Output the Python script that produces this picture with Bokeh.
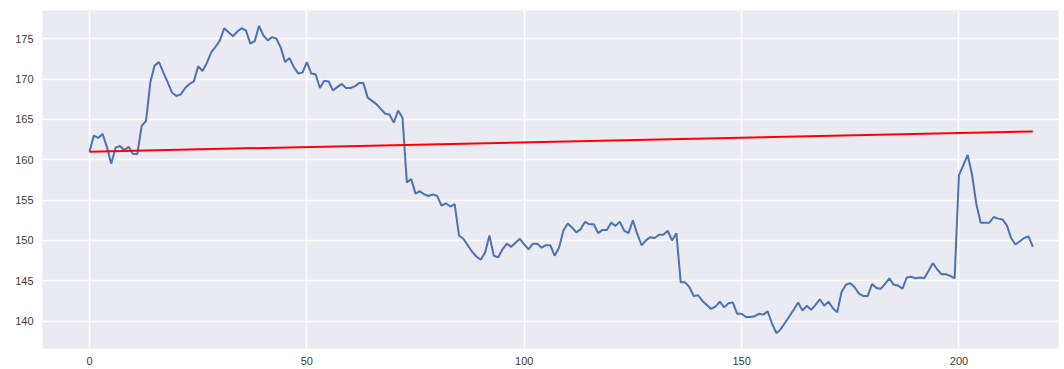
from bokeh.plotting import figure
from bokeh.models import FixedTicker, Range1d
from bokeh.embed import file_html
from bokeh.resources import INLINE

# Daily closing prices, one value per trading day
price = [
    161.0, 163.0, 162.7, 163.2, 161.6, 159.5, 161.5, 161.7, 161.2, 161.6,
    160.7, 160.7, 164.2, 164.8, 169.6, 171.7, 172.1, 170.8, 169.6, 168.3,
    167.9, 168.1, 168.9, 169.4, 169.7, 171.6, 171.0, 172.0, 173.3, 174.0,
    174.8, 176.3, 175.8, 175.3, 175.9, 176.3, 176.0, 174.4, 174.7, 176.6,
    175.4, 174.8, 175.2, 175.0, 173.9, 172.1, 172.6, 171.5, 170.7, 170.8,
    172.1, 170.7, 170.6, 168.9, 169.8, 169.7, 168.6, 169.0, 169.4, 168.9,
    168.9, 169.1, 169.5, 169.5, 167.7, 167.3, 166.9, 166.3, 165.7, 165.6,
    164.6, 166.1, 165.2, 157.2, 157.6, 155.8, 156.1, 155.7, 155.5, 155.7,
    155.5, 154.3, 154.6, 154.2, 154.5, 150.6, 150.2, 149.4, 148.6, 148.0,
    147.6, 148.5, 150.6, 148.1, 147.9, 148.9, 149.6, 149.2, 149.7, 150.2,
    149.5, 148.9, 149.6, 149.6, 149.1, 149.4, 149.4, 148.1, 149.1, 151.2,
    152.1, 151.6, 151.0, 151.4, 152.3, 152.0, 152.0, 150.9, 151.3, 151.3,
    152.2, 151.8, 152.3, 151.2, 150.9, 152.5, 150.8, 149.4, 150.0, 150.4,
    150.3, 150.7, 150.7, 151.2, 150.0, 150.9, 144.8, 144.8, 144.2, 143.1,
    143.2, 142.5, 142.0, 141.5, 141.8, 142.4, 141.7, 142.2, 142.3, 140.9,
    140.9, 140.5, 140.5, 140.6, 140.9, 140.8, 141.2, 139.7, 138.5, 139.0,
    139.8, 140.6, 141.4, 142.3, 141.3, 141.9, 141.4, 142.0, 142.7, 141.9,
    142.4, 141.6, 141.1, 143.6, 144.5, 144.7, 144.2, 143.4, 143.1, 143.1,
    144.6, 144.1, 144.0, 144.6, 145.3, 144.5, 144.4, 144.0, 145.4, 145.5,
    145.3, 145.4, 145.3, 146.2, 147.2, 146.4, 145.8, 145.8, 145.6, 145.3,
    158.1, 159.3, 160.6, 158.2, 154.5, 152.2, 152.2, 152.2, 152.9, 152.7,
    152.6, 151.9, 150.3, 149.5, 149.9, 150.3, 150.5, 149.2,
]
day = list(range(len(price)))

# Straight trend line between its two end points
trend_x = [0, 217]
trend_y = [161.0, 163.5]

x_ticks = [0, 50, 100, 150, 200]
y_ticks = [140, 145, 150, 155, 160, 165, 170, 175]

p = figure(
    width=1064, height=369,
    output_backend="svg", toolbar_location=None,
    x_range=Range1d(-10.81, 222.9), y_range=Range1d(136.6, 178.5),
    min_border_left=42, min_border_right=6,
    min_border_top=10, min_border_bottom=21,
)
p.background_fill_color = "#EAEAF2"
p.border_fill_color = "white"
p.outline_line_color = None

for ax in (p.xaxis, p.yaxis):
    ax.axis_line_color = None
    ax.major_tick_line_color = None
    ax.minor_tick_line_color = None
    ax.major_tick_out = 0
    ax.major_tick_in = 0
    ax.major_label_text_font = "Liberation Sans"
    ax.major_label_text_font_size = "11px"
    ax.major_label_text_color = "#3a3a3a"

p.xaxis.ticker = FixedTicker(ticks=x_ticks)
p.yaxis.ticker = FixedTicker(ticks=y_ticks)
p.xaxis.major_label_standoff = 8
p.yaxis.major_label_standoff = 9

p.grid.grid_line_color = "white"
p.grid.grid_line_width = 1.5
p.grid.minor_grid_line_color = None

p.line(day, price, line_color="#4C72B0", line_width=2)
p.line(trend_x, trend_y, line_color="#FF0000", line_width=2)

open("out.html", "w").write(file_html(p, INLINE))
